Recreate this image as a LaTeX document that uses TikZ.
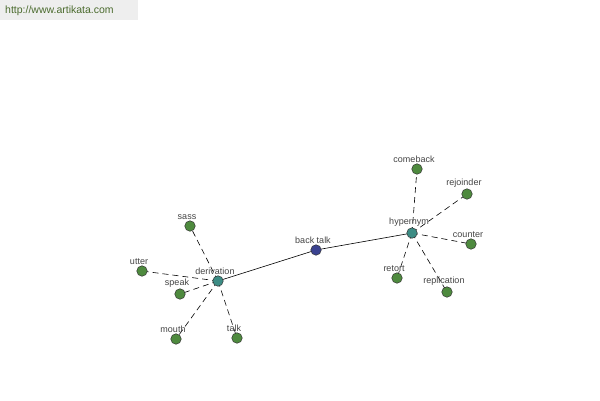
\documentclass[tikz,border=0pt]{standalone}
\usepackage{fontspec}
\setmainfont{Liberation Sans}
\definecolor{leafgreen}{HTML}{4E8A3E}
\definecolor{hubteal}{HTML}{3C8C84}
\definecolor{rootblue}{HTML}{3A4290}
\definecolor{labelgrey}{HTML}{444444}
\definecolor{urlgreen}{HTML}{4B6B2E}
\definecolor{urlback}{HTML}{EEEEEE}
\tikzset{
	word/.style={circle, draw=black!80, line width=0.5pt, inner sep=0pt, minimum size=10.5pt,
		label={[text=labelgrey, font=\fontsize{9}{10}\selectfont, inner sep=1pt, xshift=-3pt]above:#1}},
	leaf/.style={word={#1}, fill=leafgreen},
	hub/.style={word={#1}, fill=hubteal},
	root/.style={word={#1}, fill=rootblue},
	link/.style={line width=0.6pt},
	rel/.style={line width=0.6pt, dash pattern=on 6pt off 4pt}
}
\begin{document}
\begin{tikzpicture}[x=1pt, y=-1pt]
		\useasboundingbox [fill=white] (0, 0) rectangle (600, 400);
		\fill [urlback] (0, 0) rectangle (138, 20);
		\node [anchor=west, text=urlgreen, font=\fontsize{10.5}{12}\selectfont, inner sep=0pt] (url) at (5, 10.5) {http://www.artikata.com};
		% edges first, nodes on top
		\path (316, 250) coordinate (pbt) (218, 281) coordinate (pder) (412, 233) coordinate (phyp);
		\draw [link] (pder) -- (pbt) -- (phyp);
		\foreach \x/\y in {190/226, 142/271, 180/294, 176/339, 237/338}
			\draw [rel] (pder) -- (\x, \y);
		\foreach \x/\y in {417/169, 467/194, 471/244, 397/278, 447/292}
			\draw [rel] (phyp) -- (\x, \y);
		\node [root=back talk] (backtalk) at (pbt) {};
		\node [hub=derivation] (derivation) at (pder) {};
		\node [hub=hypernym] (hypernym) at (phyp) {};
		\node [leaf=sass] (sass) at (190, 226) {};
		\node [leaf=utter] (utter) at (142, 271) {};
		\node [leaf=speak] (speak) at (180, 294) {};
		\node [leaf=mouth] (mouth) at (176, 339) {};
		\node [leaf=talk] (talk) at (237, 338) {};
		\node [leaf=comeback] (comeback) at (417, 169) {};
		\node [leaf=rejoinder] (rejoinder) at (467, 194) {};
		\node [leaf=counter] (counter) at (471, 244) {};
		\node [leaf=retort] (retort) at (397, 278) {};
		\node [leaf=replication] (replication) at (447, 292) {};
	\end{tikzpicture}
\end{document}
